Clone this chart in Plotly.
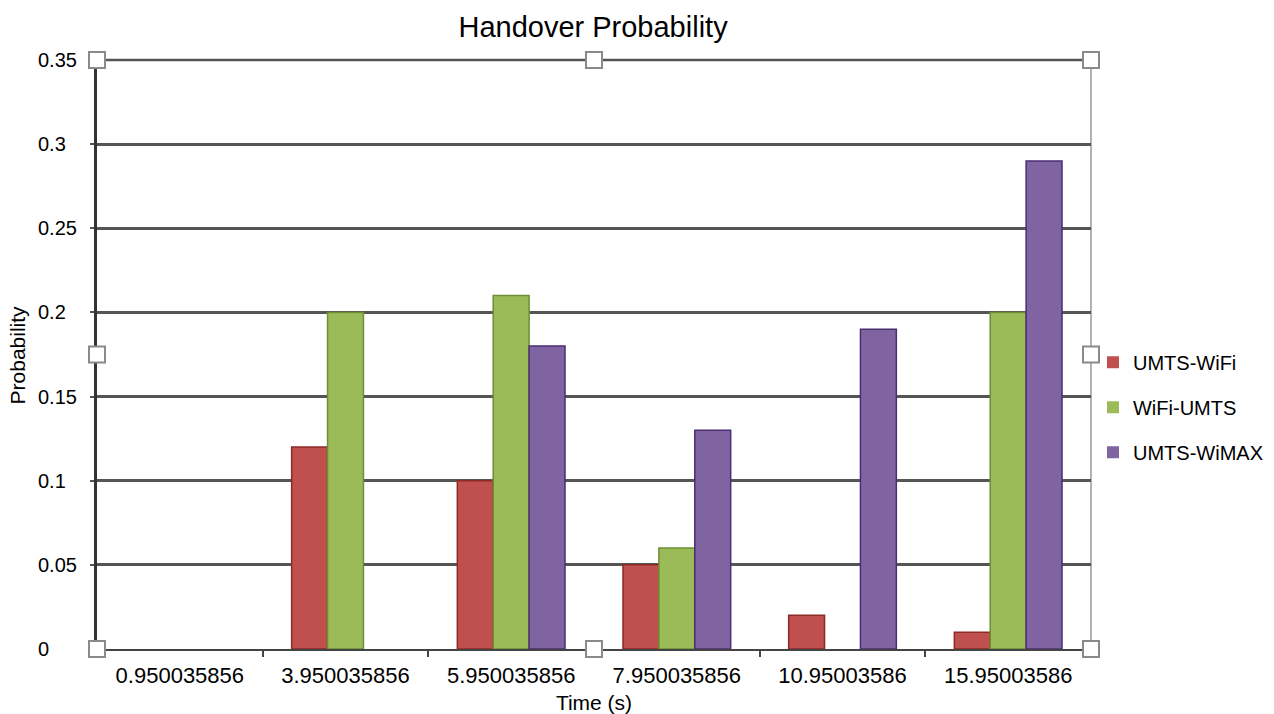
import plotly.graph_objects as go

# Handover probability per time point and network pair
times = ["0.950035856", "3.950035856", "5.950035856", "7.950035856",
         "10.95003586", "15.95003586"]
umts_wifi = [0, 0.12, 0.10, 0.05, 0.02, 0.01]
wifi_umts = [0, 0.20, 0.21, 0.06, 0, 0.20]
umts_wimax = [0, 0, 0.18, 0.13, 0.19, 0.29]
y_ticks = [0, 0.05, 0.1, 0.15, 0.2, 0.25, 0.3, 0.35]
y_tick_text = ["0", "0.05", "0.1", "0.15", "0.2", "0.25", "0.3", "0.35"]

series = [
    ("UMTS-WiFi", umts_wifi, "#C0504D", "#8C2A28"),
    ("WiFi-UMTS", wifi_umts, "#9BBB59", "#6E8E35"),
    ("UMTS-WiMAX", umts_wimax, "#8064A2", "#4B2E72"),
]

font = "Liberation Sans, Arial, sans-serif"

fig = go.Figure()
for name, vals, fill, edge in series:
    # empty bars get no outline
    widths = [1.5 if v > 0 else 0 for v in vals]
    fig.add_trace(go.Bar(
        x=times, y=vals, name=name, legendgroup=name,
        marker=dict(color=fill, line=dict(color=edge, width=widths)),
    ))

# selection-style handles around the plot area
handles = [(0, 0), (0.5, 0), (1, 0), (0, 0.5), (1, 0.5), (0, 1), (0.5, 1), (1, 1)]
shapes = []
# top and right borders of the plot area
shapes.append(dict(type="line", xref="x domain", yref="y domain", x0=0, x1=1, y0=1, y1=1,
                   line=dict(color="#555555", width=2.5), layer="below"))
shapes.append(dict(type="line", xref="x domain", yref="y domain", x0=1, x1=1, y0=0, y1=1,
                   line=dict(color="#9a9a9a", width=1.5), layer="below"))
for hx, hy in handles:
    shapes.append(dict(
        type="rect", xref="x domain", yref="y domain",
        xsizemode="pixel", ysizemode="pixel", xanchor=hx, yanchor=hy,
        x0=-8, x1=8, y0=-8, y1=8,
        line=dict(color="#8a8a8a", width=2), fillcolor="white", layer="above",
    ))

# left-aligned value labels for the y axis
annotations = [
    dict(text=t, x=-0.0614, y=v, xref="paper", yref="y", xanchor="left", yanchor="middle",
         showarrow=False, font=dict(family=font, size=20, color="black"))
    for v, t in zip(y_ticks, y_tick_text)
]
annotations.append(dict(text="Probability", x=-0.0795, y=0.5, xref="paper", yref="paper",
                        xanchor="center", yanchor="middle", textangle=-90, showarrow=False,
                        font=dict(family=font, size=21, color="black")))

fig.update_layout(
    width=1274, height=714,
    margin=dict(l=97, r=183, t=60, b=65, autoexpand=False),
    paper_bgcolor="white", plot_bgcolor="white",
    barmode="group", bargap=0.35, bargroupgap=0,
    title=dict(text="Handover Probability", x=0.4655, xanchor="center",
               y=0.962, yanchor="middle",
               font=dict(family=font, size=29, color="black")),
    font=dict(family=font, size=20, color="black"),
    shapes=shapes,
    annotations=annotations,
    legend=dict(x=1.002, xanchor="left", y=0.52, yanchor="top",
                bgcolor="rgba(0,0,0,0)",
                font=dict(family=font, size=20, color="black"),
                tracegroupgap=16, itemwidth=30),
    xaxis=dict(
        type="category", showgrid=False, showline=True, linecolor="#444444", linewidth=2,
        ticks="outside", tickson="boundaries", ticklen=6, tickcolor="#444444", tickwidth=1.5,
        tickfont=dict(size=22), ticklabelstandoff=6, automargin=False,
        title=dict(text="Time (s)", font=dict(size=21), standoff=8),
    ),
    yaxis=dict(
        range=[0, 0.35], tickvals=y_ticks, showgrid=True, gridcolor="#555555", gridwidth=2.5,
        showline=True, linecolor="#333333", linewidth=2.5, zeroline=False,
        ticks="outside", ticklen=4, tickcolor="#555555", tickwidth=2,
        showticklabels=False, automargin=False,
    ),
)

fig.write_html("out.html")
